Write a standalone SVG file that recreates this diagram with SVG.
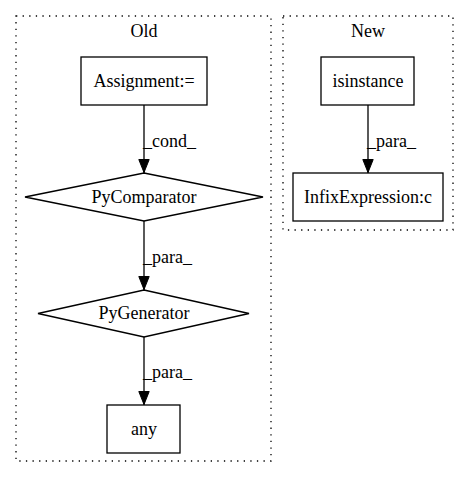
<svg xmlns="http://www.w3.org/2000/svg" width="469" height="480" viewBox="0 0 469 480">
<defs>
<style>
text{font-family:"Liberation Serif","Times New Roman",serif;font-size:18px;fill:#000}
.c{text-anchor:middle}
.cl{fill:none;stroke:#000;stroke-dasharray:1.3,5.3;stroke-width:1.3}
.n{fill:#fff;stroke:#000;stroke-width:1.3}
.e{fill:none;stroke:#000;stroke-width:1.3}
</style>
<marker id="ah" markerWidth="14" markerHeight="12" refX="14" refY="6" orient="auto" markerUnits="userSpaceOnUse" viewBox="0 0 14 12">
<path d="M0.5,0.8L13.5,6L0.5,11.2z" fill="#000" stroke="#000"/>
</marker>
</defs>
<rect width="469" height="480" fill="#fff"/>
<g id="cluster_old">
<rect class="cl" x="16" y="16" width="255" height="445"/>
<text class="c" x="144" y="37">Old</text>
</g>
<g id="cluster_new">
<rect class="cl" x="283" y="16" width="170" height="214"/>
<text class="c" x="368" y="37">New</text>
</g>
<g id="connectors">
<path class="e" d="M144,105V173" marker-end="url(#ah)"/>
<text x="143" y="147">_cond_</text>
<path class="e" d="M144,221V290" marker-end="url(#ah)"/>
<text x="143" y="263">_para_</text>
<path class="e" d="M144,337V405" marker-end="url(#ah)"/>
<text x="143" y="378">_para_</text>
<path class="e" d="M368,105V173" marker-end="url(#ah)"/>
<text x="367" y="147">_para_</text>
</g>
<g id="assignment">
<rect class="n" x="81" y="57" width="126" height="48"/>
<text class="c" x="144" y="87">Assignment:=</text>
</g>
<g id="pycomparator">
<polygon class="n" points="144,173 263,197 144,221 25,197"/>
<text class="c" x="144" y="203">PyComparator</text>
</g>
<g id="pygenerator">
<polygon class="n" points="144,290 249,313.5 144,337 38,313.5"/>
<text class="c" x="144" y="319">PyGenerator</text>
</g>
<g id="any">
<rect class="n" x="107" y="405" width="73" height="48"/>
<text class="c" x="144" y="435">any</text>
</g>
<g id="isinstance">
<rect class="n" x="321" y="57" width="93" height="48"/>
<text class="c" x="368" y="87">isinstance</text>
</g>
<g id="infix">
<rect class="n" x="293" y="173" width="150" height="48"/>
<text class="c" x="368" y="203">InfixExpression:c</text>
</g>
</svg>
